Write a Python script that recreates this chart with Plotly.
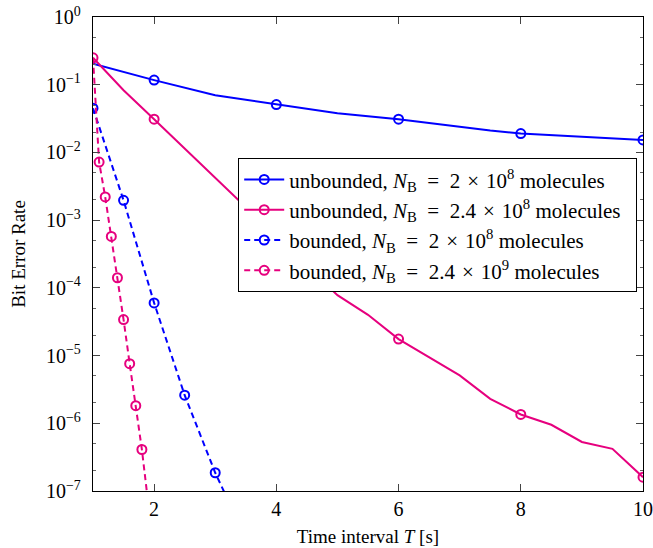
import plotly.graph_objects as go

# ---- data ----
x_ub_a = [1, 2, 3, 4, 5, 6, 7, 7.5, 8, 9, 10]
ber_ub_a = [0.205, 0.117, 0.070, 0.051, 0.038, 0.031, 0.024, 0.021, 0.019, 0.017, 0.0153]

x_ub_b = [1, 1.5, 2, 3, 4, 5, 5.5, 6, 7, 7.5, 8, 8.5, 9, 9.5, 10]
ber_ub_b = [0.25, 0.083, 0.031, 4.2e-3, 5.6e-4, 7.8e-5, 4.0e-5, 1.75e-5, 5.1e-6, 2.3e-6,
            1.35e-6, 9.5e-7, 5.3e-7, 4.2e-7, 1.6e-7]

x_b_a = [1, 1.5, 2, 2.5, 3, 3.5]
ber_b_a = [0.045, 1.96e-3, 6.0e-5, 2.6e-6, 1.86e-7, 2e-8]

x_b_b = [1, 1.1, 1.2, 1.3, 1.4, 1.5, 1.6, 1.7, 1.8, 1.9]
ber_b_b = [0.25, 7.2e-3, 2.2e-3, 5.75e-4, 1.41e-4, 3.4e-5, 7.6e-6, 1.82e-6, 4.1e-7, 7e-8]

ub_marker_x = [2, 4, 6, 8, 10]

EQ = "\u2002"   # spacing around '='
OP = "\u2004"   # spacing around '×'
PAD = "\u2002"  # trailing pad
names = [
    f"unbounded, <i>N</i><sub>B</sub>{EQ}={EQ}2{OP}×{OP}10<sup>8</sup> molecules{PAD}",
    f"unbounded, <i>N</i><sub>B</sub>{EQ}={EQ}2.4{OP}×{OP}10<sup>8</sup> molecules{PAD}",
    f"bounded, <i>N</i><sub>B</sub>{EQ}={EQ}2{OP}×{OP}10<sup>8</sup> molecules{PAD}",
    f"bounded, <i>N</i><sub>B</sub>{EQ}={EQ}2.4{OP}×{OP}10<sup>9</sup> molecules{PAD}",
]

ytick_vals = [1e-7, 1e-6, 1e-5, 1e-4, 1e-3, 1e-2, 1e-1, 1e0]
ytick_text = ["10<sup>−7</sup>", "10<sup>−6</sup>", "10<sup>−5</sup>", "10<sup>−4</sup>",
              "10<sup>−3</sup>", "10<sup>−2</sup>", "10<sup>−1</sup>", "10<sup>0</sup>"]
xtick_vals = [2, 4, 6, 8, 10]

BLUE = "#0000FF"
PINK = "#E6007E"
FONT = "Liberation Serif"

fig = go.Figure()

marker_style = lambda c: dict(symbol="circle-open", size=9, color=c, line=dict(width=2, color=c))


def add_unbounded(xs, ys, color, name):
    mx = [x for x in xs if x in ub_marker_x]
    my = [y for x, y in zip(xs, ys) if x in ub_marker_x]
    fig.add_trace(go.Scatter(x=xs, y=ys, mode="lines", line=dict(color=color, width=2),
                             showlegend=False, hoverinfo="skip"))
    fig.add_trace(go.Scatter(x=mx, y=my, mode="markers", marker=marker_style(color),
                             showlegend=False))
    fig.add_trace(go.Scatter(x=[None], y=[None], mode="lines+markers", name=name,
                             line=dict(color=color, width=2), marker=marker_style(color)))


def add_bounded(xs, ys, color, name):
    fig.add_trace(go.Scatter(x=xs, y=ys, mode="lines+markers", name=name,
                             line=dict(color=color, width=2, dash="6px,4px"),
                             marker=marker_style(color)))


add_unbounded(x_ub_a, ber_ub_a, BLUE, names[0])
add_unbounded(x_ub_b, ber_ub_b, PINK, names[1])
add_bounded(x_b_a, ber_b_a, BLUE, names[2])
add_bounded(x_b_b, ber_b_b, PINK, names[3])

fig.update_layout(
    width=653, height=548,
    margin=dict(l=93, r=10, t=17, b=57),
    plot_bgcolor="white", paper_bgcolor="white",
    font=dict(family=FONT, size=19, color="black"),
    legend=dict(x=0.264, y=0.702, xanchor="left", yanchor="top",
                bgcolor="white", bordercolor="black", borderwidth=1,
                font=dict(family=FONT, size=21), tracegroupgap=0,
                itemwidth=40),
)
fig.update_xaxes(
    range=[1, 10], tickvals=xtick_vals, ticks="inside", ticklen=7, tickcolor="#444",
    showline=True, linecolor="black", linewidth=1.3, mirror="allticks",
    showgrid=False, zeroline=False, automargin=False,
    title=dict(text="Time interval <i>T</i> [s]", standoff=10, font=dict(size=19)),
    tickfont=dict(size=20), ticklabelstandoff=0,
)
fig.update_yaxes(
    type="log", range=[-7, 0], tickvals=ytick_vals, ticktext=ytick_text,
    ticks="inside", ticklen=7, tickcolor="#444",
    showline=True, linecolor="black", linewidth=1.3, mirror="allticks",
    showgrid=False, zeroline=False, automargin=False,
    minor=dict(ticks="inside", ticklen=3, tickcolor="#666", showgrid=False),
    title=dict(text="Bit Error Rate", standoff=15, font=dict(size=19)),
    tickfont=dict(size=20), ticklabelstandoff=7,
)

fig.write_html("out.html", config={"displayModeBar": False},
               post_script="document.body.style.margin='0px';")
